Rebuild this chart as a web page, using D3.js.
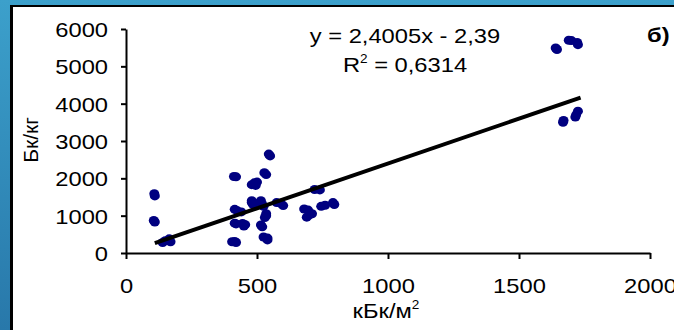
<!DOCTYPE html>
<html>
<head>
<meta charset="utf-8">
<script src="https://cdn.jsdelivr.net/npm/d3@7"></script>
<style>
  body { margin: 0; }
  svg { display: block; font-family: "Liberation Sans", Arial, sans-serif; }
</style>
</head>
<body>
<svg id="chart" width="674" height="330"></svg>
<script>
// activity in soil (kBq/m2) vs activity in sample (Bq/kg)
const soilX = [108, 110, 106, 110,
  140, 150, 165, 170,
  412, 420, 405, 415, 420, 415, 425, 440, 415, 420, 445, 450, 455,
  480, 490, 500, 495, 528, 535, 545, 550, 480, 485, 480, 515, 520, 525, 510,
  535, 530, 535, 515, 520, 525, 540, 540,
  575, 590, 600, 680, 695, 700, 690, 710, 720, 740, 745, 760, 790, 795,
  1640, 1645, 1690, 1700, 1722, 1725, 1670, 1668, 1725, 1718, 1715];
const sampleY = [1590, 1530, 870, 830,
  280, 330, 380, 300,
  2050, 2040, 300, 310, 280, 1170, 1130, 1100, 800, 780, 790, 720, 760,
  1830, 1880, 1900, 1810, 2150, 2100, 2650, 2600, 1400, 1300, 1350, 1400, 1300, 1250, 1350,
  1000, 950, 1050, 750, 700, 430, 400, 350,
  1350, 1330, 1270, 1180, 1150, 1020, 960, 1050, 1700, 1690, 1250, 1280, 1350, 1300,
  5490, 5450, 5700, 5690, 5640, 5580, 3550, 3500, 3800, 3700, 3640];

const xTicks = [0, 500, 1000, 1500, 2000];
const yTicks = [0, 1000, 2000, 3000, 4000, 5000, 6000];
const trendCoef = [2.4005, -2.39];   // slope, intercept from the label
const trendX = [110, 1735];
const eqLabel = "y = 2,4005x - 2,39";
const r2Label = "0,6314";

const W = 674, H = 330;
const sx = 1.13; // text is a bit wider than plain Arial

const svg = d3.select("#chart");

// blue frame
const grad = svg.append("defs").append("linearGradient")
    .attr("id", "bg").attr("x1", 0).attr("y1", 0).attr("x2", 0).attr("y2", 1);
grad.append("stop").attr("offset", 0).attr("stop-color", "#3ca0cb");
grad.append("stop").attr("offset", 1).attr("stop-color", "#2878aa");
svg.append("rect").attr("width", W).attr("height", H).attr("fill", "url(#bg)");

svg.append("rect").attr("x", 10).attr("y", 5).attr("width", W).attr("height", H).attr("fill", "#fff");
svg.append("line").attr("x1", 11.5).attr("x2", 11.5).attr("y1", 5).attr("y2", H)
    .attr("stroke", "#000").attr("stroke-width", 3);
svg.append("line").attr("x1", 10).attr("x2", W).attr("y1", 6).attr("y2", 6)
    .attr("stroke", "#000").attr("stroke-width", 2);

const x = d3.scaleLinear().domain([0, 2000]).range([126, 650]);
const y = d3.scaleLinear().domain([0, 6000]).range([253, 29]);

// axes
const gx = svg.append("g")
    .attr("transform", `translate(0,${y(0)})`)
    .call(d3.axisBottom(x).tickValues(xTicks).tickSize(6).tickSizeOuter(0).tickFormat(d3.format("d")));
gx.selectAll("text")
    .attr("y", 40).attr("dy", 0)
    .attr("transform", `scale(${sx},1)`);

const gy = svg.append("g")
    .attr("transform", `translate(${x(0)},0)`)
    .call(d3.axisLeft(y).tickValues(yTicks).tickSize(5).tickSizeOuter(0).tickFormat(d3.format("d")));
gy.selectAll("text")
    .attr("x", -18 / sx).attr("dy", "0.36em")
    .attr("transform", `scale(${sx},1)`);

[gx, gy].forEach(g => {
  g.attr("font-family", null).attr("font-size", 21);
  g.selectAll("text").attr("fill", "#000");
  g.selectAll("path, line").attr("stroke", "#000").attr("stroke-width", 2);
});

// points
svg.append("g")
    .attr("fill", "#000080")
  .selectAll("ellipse")
  .data(soilX)
  .join("ellipse")
    .attr("cx", d => x(d))
    .attr("cy", (d, i) => y(sampleY[i]))
    .attr("rx", 5)
    .attr("ry", 4.5);

// linear trend
const line = d3.line().x(d => x(d)).y(d => y(trendCoef[0] * d + trendCoef[1]));
svg.append("path")
    .attr("d", line(trendX))
    .attr("fill", "none")
    .attr("stroke", "#000")
    .attr("stroke-width", 4);

// texts
function label(tx, ty, anchor) {
  return svg.append("text")
      .attr("transform", `translate(${tx},${ty}) scale(${sx},1)`)
      .attr("text-anchor", anchor)
      .attr("font-size", 21)
      .attr("fill", "#000");
}

label(405, 43, "middle").text(eqLabel);

const r2 = label(405, 72, "middle");
r2.append("tspan").text("R");
r2.append("tspan").attr("font-size", 12).attr("dy", -9).text("2");
r2.append("tspan").attr("dy", 9).text(" = " + r2Label);

label(647, 42, "start").attr("font-weight", "bold").text("б)");

const xt = label(386, 318, "middle");
xt.append("tspan").text("кБк/м");
xt.append("tspan").attr("font-size", 12).attr("dy", -9).text("2");

svg.append("text")
    .attr("transform", `translate(38,140) rotate(-90)`)
    .attr("text-anchor", "middle")
    .attr("font-size", 21)
    .attr("fill", "#000")
    .text("Бк/кг");
</script>
</body>
</html>
